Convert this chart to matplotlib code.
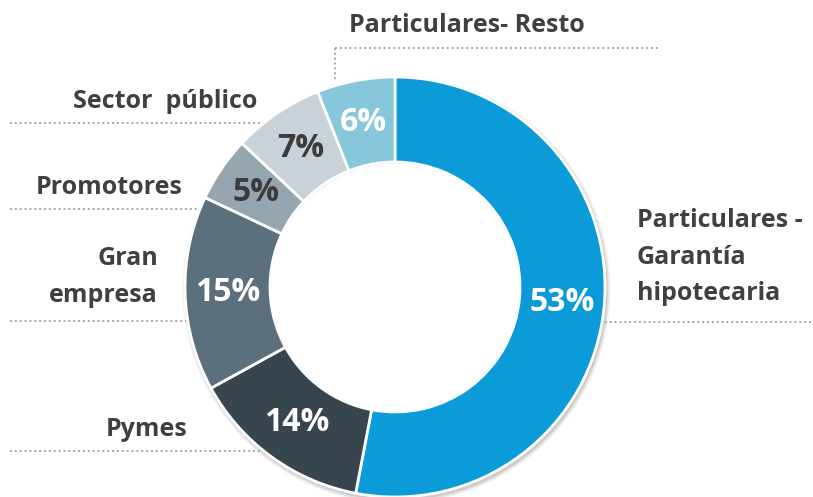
import matplotlib.pyplot as plt
from matplotlib.patches import Wedge

categories = ["Particulares -\nGarantía\nhipotecaria", "Pymes", "Gran\nempresa",
              "Promotores", "Sector  público", "Particulares- Resto"]
shares = [53, 14, 15, 5, 7, 6]
colors = ["#0A9BD8", "#37454F", "#5B6F7C", "#95A6B0", "#C9D2D8", "#86C7DB"]
pct_colors = ["white", "white", "white", "#3B3B3B", "#3B3B3B", "white"]

W, H = 813, 497
plt.rcParams["font.family"] = ["Open Sans", "DejaVu Sans"]
fig = plt.figure(figsize=(W / 100, H / 100), dpi=100)
ax = fig.add_axes([0, 0, 1, 1])

cx, cy, R = 395, H - 287, 210
width = 85

# soft shadow under the ring
for k, a in [(4, 0.05), (2.5, 0.07), (1, 0.09)]:
    ax.add_patch(Wedge((cx + 1.5, cy - 2.5), R + k, 0, 360, width=width,
                       color="black", alpha=a, lw=0, zorder=0))

wedges, _, autotexts = ax.pie(
    shares, colors=colors, startangle=90, counterclock=False,
    center=(cx, cy), radius=R, frame=True,
    wedgeprops=dict(width=width, edgecolor="white", linewidth=2),
    autopct=lambda p: f"{round(p)}%", pctdistance=(R - width / 2) / R,
    textprops=dict(fontsize=23, fontweight="bold"))
for t, c in zip(autotexts, pct_colors):
    t.set_color(c)
ax.set_xlim(0, W)
ax.set_ylim(0, H)
ax.set_aspect("equal")
ax.axis("off")

txt = dict(fontsize=18, fontweight="bold", color="#404040")
dots = dict(color="#A6A6A6", linestyle=(0, (1, 1.5)), linewidth=1.4, zorder=0.5)

def y(p):
    return H - p

# Particulares- Resto
ax.text(467, y(25), categories[5], ha="center", va="center", **txt)
ax.plot([335, 660], [y(48), y(48)], **dots)
ax.plot([335, 335], [y(48), y(82)], **dots)
# Sector público
ax.text(257, y(101), categories[4], ha="right", va="center", **txt)
ax.plot([10, 260], [y(123), y(123)], **dots)
# Promotores
ax.text(183, y(188), categories[3], ha="right", va="center", **txt)
ax.plot([10, 200], [y(209), y(209)], **dots)
# Gran empresa
ax.text(158, y(277), categories[2], ha="right", va="center", linespacing=1.6, **txt)
ax.plot([10, 190], [y(321), y(321)], **dots)
# Pymes
ax.text(187, y(429), categories[1], ha="right", va="center", **txt)
ax.plot([10, 265], [y(451), y(451)], **dots)
# Particulares - Garantía hipotecaria
ax.text(637, y(257), categories[0], ha="left", va="center", linespacing=1.6, **txt)
ax.plot([600, 813], [y(322), y(322)], **dots)

fig.savefig("out.png", dpi=100)
